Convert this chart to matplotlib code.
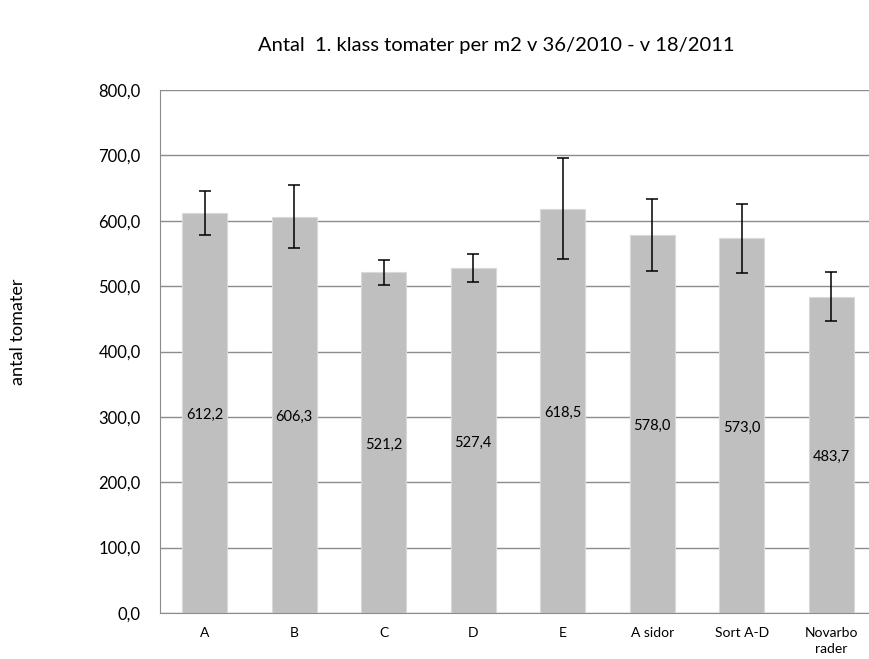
import numpy as np
import matplotlib.pyplot as plt

plt.rcParams['font.family'] = ['Lato', 'DejaVu Sans']

categories = ['A', 'B', 'C', 'D', 'E', 'A sidor', 'Sort A-D', 'Novarbo\nrader']
values = [612.2, 606.3, 521.2, 527.4, 618.5, 578.0, 573.0, 483.7]
errors = [34.0, 48.0, 19.5, 21.5, 77.0, 55.0, 53.0, 37.5]
yticks = [0, 100, 200, 300, 400, 500, 600, 700, 800]


def comma(v):
    return f'{v:.1f}'.replace('.', ',')


fig = plt.figure(figsize=(8.7, 6.59), dpi=100)
ax = fig.add_axes([160 / 870, 1 - 613 / 659, 716 / 870, (613 - 90) / 659])

x = np.arange(len(categories))
ax.bar(x, values, width=0.5, color='#bfbfbf', edgecolor='#d9d9d9', linewidth=0.8, zorder=2)
ax.errorbar(x, values, yerr=errors, fmt='none', ecolor='black', elinewidth=1.1,
            capsize=4, capthick=1.1, zorder=3)

for xi, v in zip(x, values):
    ax.text(xi, v / 2 - 3, comma(v), ha='center', va='center', fontsize=10.5, zorder=4)

ax.set_xlim(-0.5, len(categories) - 0.5)
ax.set_ylim(0, 800)
ax.set_yticks(yticks)
ax.set_yticklabels([comma(t) for t in yticks], fontsize=12)
ax.set_xticks(x)
ax.set_xticklabels(categories, fontsize=10, linespacing=1.4, va='top')
ax.tick_params(axis='x', length=0, pad=10)
ax.tick_params(axis='y', length=0, pad=14)

ax.grid(axis='y', color='#8c8c8c', linewidth=1.0, zorder=1)
for s in ['top', 'right']:
    ax.spines[s].set_visible(False)
ax.spines['left'].set_color('#8c8c8c')
ax.spines['bottom'].set_color('#8c8c8c')

fig.text(18 / 870, 1 - 332 / 659, 'antal tomater', rotation=90, ha='center', va='center', fontsize=13)
fig.text(496 / 870, 1 - 45 / 659, 'Antal  1. klass tomater per m2 v 36/2010 - v 18/2011',
         ha='center', va='center', fontsize=14.5)

fig.savefig('out.png', dpi=100)
